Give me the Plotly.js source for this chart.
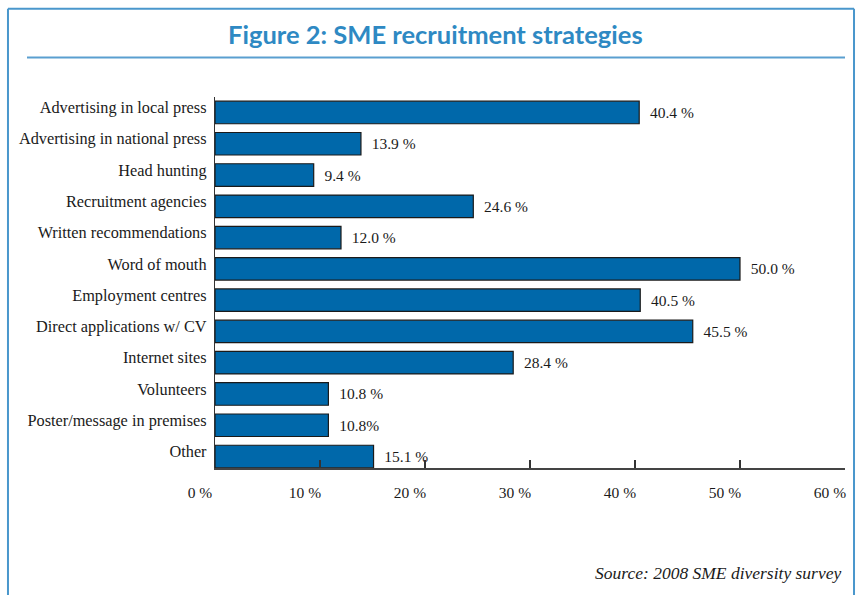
<!DOCTYPE html>
<html>
<head>
<meta charset="utf-8">
<script src="https://cdn.plot.ly/plotly-3.0.1.min.js"></script>
<style>
  html, body { margin: 0; padding: 0; background: #ffffff; }
  #chart { width: 857px; height: 595px; }
</style>
</head>
<body>
<div id="chart"></div>
<script>
// ---- data ----
const categories = [
  "Advertising in local press",
  "Advertising in national press",
  "Head hunting",
  "Recruitment agencies",
  "Written recommendations",
  "Word of mouth",
  "Employment centres",
  "Direct applications w/ CV",
  "Internet sites",
  "Volunteers",
  "Poster/message in premises",
  "Other"
];
const values = [40.4, 13.9, 9.4, 24.6, 12.0, 50.0, 40.5, 45.5, 28.4, 10.8, 10.8, 15.1];
const valueLabels = ["40.4 %", "13.9 %", "9.4 %", "24.6 %", "12.0 %", "50.0 %", "40.5 %", "45.5 %", "28.4 %", "10.8 %", "10.8%", "15.1 %"];
const tickValues = [0, 10, 20, 30, 40, 50, 60];
const tickLabels = ["0 %", "10 %", "20 %", "30 %", "40 %", "50 %", "60 %"];
const titleText = "Figure 2: SME recruitment strategies";
const sourceText = "Source: 2008 SME diversity survey";

// ---- styles ----
const serif = "Liberation Serif, Times New Roman, serif";
const frameBlue = "#4a97cc";
const barBlue = "#0068aa";

const trace = {
  type: "bar",
  orientation: "h",
  x: values,
  y: categories,
  text: valueLabels,
  texttemplate: "\u00a0\u00a0%{text}",
  textposition: "outside",
  cliponaxis: false,
  textfont: { family: serif, size: 15.5, color: "#1a1a1a" },
  marker: { color: barBlue, line: { color: "#1a1a1a", width: 1.2 } },
  hoverinfo: "skip"
};

const layout = {
  width: 857,
  height: 595,
  margin: { l: 215, r: 12, t: 96.5, b: 127, pad: 0 },
  paper_bgcolor: "#ffffff",
  plot_bgcolor: "rgba(0,0,0,0)",
  showlegend: false,
  bargap: 0.28,
  title: {
    text: "<b>" + titleText + "</b>",
    font: { family: "Lato, Open Sans, sans-serif", size: 25.5, color: "#2e89c3" },
    xref: "container", x: 0.508, xanchor: "center",
    yref: "container", y: 0.941, yanchor: "middle"
  },
  xaxis: {
    range: [0, 60],
    tickmode: "array",
    tickvals: tickValues,
    ticktext: tickLabels,
    ticks: "inside",
    ticklen: 8,
    tickwidth: 1.2,
    tickcolor: "#333333",
    showline: true,
    linecolor: "#444444",
    linewidth: 1.5,
    showgrid: false,
    zeroline: false,
    ticklabelshift: -15,
    ticklabelstandoff: 10,
    tickfont: { family: serif, size: 15.5, color: "#1a1a1a" },
    fixedrange: true
  },
  yaxis: {
    type: "category",
    categoryorder: "array",
    categoryarray: categories,
    range: [11.367, -0.495],
    showline: true,
    linecolor: "#333333",
    linewidth: 1.2,
    ticks: "",
    showgrid: false,
    zeroline: false,
    ticklabelstandoff: 4,
    ticklabelshift: 5,
    tickfont: { family: serif, size: 16.3, color: "#1a1a1a" },
    fixedrange: true
  },
  shapes: [
    // outer frame (left, top, right)
    { type: "line", xref: "paper", yref: "paper", x0: -0.3286, x1: -0.3286, y0: 1.2382, y1: -0.36, line: { color: frameBlue, width: 2 } },
    { type: "line", xref: "paper", yref: "paper", x0: -0.3286, x1: 1.0143, y0: 1.2382, y1: 1.2382, line: { color: frameBlue, width: 2 } },
    { type: "line", xref: "paper", yref: "paper", x0: 1.0143, x1: 1.0143, y0: 1.2382, y1: -0.36, line: { color: frameBlue, width: 2 } },
    // title underline
    { type: "line", xref: "paper", yref: "paper", x0: -0.2984, x1: 1.0, y0: 1.1063, y1: 1.1063, line: { color: "#5a9fd0", width: 2 } }
  ],
  annotations: [
    {
      text: "<i>" + sourceText + "</i>",
      xref: "paper", yref: "paper",
      x: 0.9968, y: -0.2826,
      xanchor: "right", yanchor: "middle",
      showarrow: false,
      font: { family: serif, size: 17.5, color: "#1a1a1a" }
    }
  ]
};

Plotly.newPlot("chart", [trace], layout, { displayModeBar: false, staticPlot: true });
</script>
</body>
</html>
